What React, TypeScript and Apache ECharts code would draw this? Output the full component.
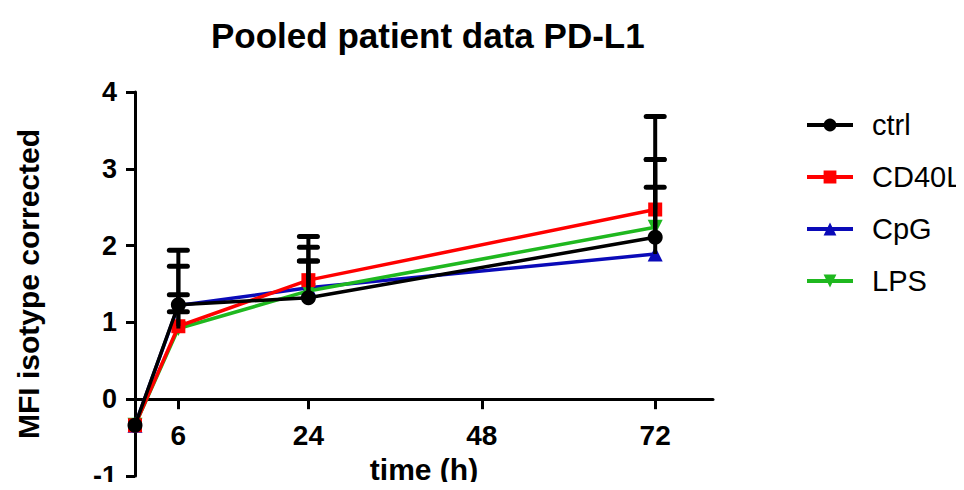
import React, { useEffect, useRef } from "react";
import * as echarts from "echarts";

// Time points (h) and group means
const timePoints = [0, 6, 24, 72];
const ctrlMean = [-0.34, 1.23, 1.32, 2.11];
const cd40lMean = [-0.34, 0.95, 1.55, 2.47];
const cpgMean = [-0.34, 1.22, 1.45, 1.89];
const lpsMean = [-0.34, 0.92, 1.41, 2.24];

// Upper end of each error bar
const ctrlUpper = [-0.34, 1.94, 1.98, 3.12];
const cd40lUpper = [-0.34, 1.73, 2.12, 3.68];
const cpgUpper = [-0.34, 1.36, 1.8, 2.76];
const lpsUpper = [-0.34, 1.14, 1.8, 3.12];

const xTicks = [6, 24, 48, 72];
const groupNames = ["ctrl", "CD40L", "CpG", "LPS"];

const FONT = "'Liberation Sans', Arial, Helvetica, sans-serif";

const pairs = (ys: number[]) => timePoints.map((t, i) => [t, ys[i]]);
const bars = (means: number[], uppers: number[]) =>
  timePoints.map((t, i) => [t, means[i], uppers[i]]);

export default function App() {
  const ref = useRef<HTMLDivElement>(null);

  useEffect(() => {
    if (!ref.current) return;
    const chart = echarts.init(ref.current, undefined, { renderer: "svg" });

    const lineSeries = (
      name: string,
      ys: number[],
      color: string,
      symbol: string,
      z: number,
      rotate = 0,
      size = 15
    ) => ({
      name,
      type: "line",
      data: pairs(ys),
      symbol,
      symbolSize: size,
      symbolRotate: rotate,
      showSymbol: true,
      z,
      itemStyle: { color, borderWidth: 0 },
      lineStyle: { color, width: 3.5 },
    });

    const errorData = [
      ...bars(ctrlMean, ctrlUpper),
      ...bars(cd40lMean, cd40lUpper),
      ...bars(cpgMean, cpgUpper),
      ...bars(lpsMean, lpsUpper),
    ];

    chart.setOption({
      animation: false,
      title: {
        text: "Pooled patient data PD-L1",
        left: 206,
        top: 13,
        textStyle: { fontFamily: FONT, fontSize: 35, fontWeight: "bold", color: "#000" },
      },
      legend: {
        orient: "vertical",
        left: 800,
        top: 105,
        itemWidth: 46,
        itemHeight: 16,
        itemGap: 22,
        data: groupNames,
        selectedMode: false,
        lineStyle: { width: 4 },
        textStyle: {
          fontFamily: FONT,
          fontSize: 29,
          color: "#000",
          lineHeight: 30,
          padding: [0, 0, 0, 14],
        },
      },
      grid: {
        left: 135,
        right: 251,
        top: 92,
        bottom: 14,
        containLabel: false,
        outerBoundsMode: "none",
      },
      xAxis: {
        type: "value",
        min: 0,
        max: 80,
        name: "time (h)",
        nameLocation: "middle",
        nameGap: 52,
        nameTextStyle: { fontFamily: FONT, fontSize: 30, fontWeight: "bold", color: "#000" },
        axisLine: { onZero: false, lineStyle: { color: "#000", width: 3 } },
        axisTick: {
          show: true,
          customValues: xTicks,
          length: 10,
          lineStyle: { color: "#000", width: 3 },
        },
        axisLabel: {
          customValues: xTicks,
          margin: 22,
          fontFamily: FONT,
          fontSize: 28,
          fontWeight: "bold",
          color: "#000",
        },
        splitLine: { show: false },
      },
      yAxis: {
        type: "value",
        min: -1,
        max: 4,
        interval: 1,
        name: "MFI isotype corrected",
        nameLocation: "middle",
        nameGap: 92,
        nameTextStyle: { fontFamily: FONT, fontSize: 30, fontWeight: "bold", color: "#000" },
        axisLine: { show: true, onZero: false, lineStyle: { color: "#000", width: 3 } },
        axisTick: { show: true, length: 9, lineStyle: { color: "#000", width: 3 } },
        axisLabel: {
          margin: 18,
          fontFamily: FONT,
          fontSize: 27,
          fontWeight: "bold",
          color: "#000",
        },
        splitLine: { show: false },
      },
      series: [
        lineSeries("ctrl", ctrlMean, "#000000", "circle", 6, 0, 15),
        lineSeries("CD40L", cd40lMean, "#ff0000", "rect", 5, 0, 14),
        lineSeries("CpG", cpgMean, "#0a0ab8", "triangle", 3),
        lineSeries("LPS", lpsMean, "#1fb81f", "triangle", 4, 180),
        {
          name: "error",
          type: "custom",
          z: 8,
          data: errorData,
          encode: { x: 0, y: [1, 2] },
          renderItem: (_params: any, api: any) => {
            const x = api.value(0);
            const lo = api.value(1);
            const hi = api.value(2);
            if (hi <= lo) return { type: "group", children: [] };
            const p0 = api.coord([x, lo]);
            const p1 = api.coord([x, hi]);
            const hw = 9;
            return {
              type: "group",
              children: [
                {
                  type: "line",
                  shape: { x1: p0[0], y1: p0[1], x2: p1[0], y2: p1[1] },
                  style: { stroke: "#000", lineWidth: 4 },
                },
                {
                  type: "line",
                  shape: { x1: p1[0] - hw, y1: p1[1], x2: p1[0] + hw, y2: p1[1] },
                  style: { stroke: "#000", lineWidth: 5, lineCap: "round" },
                },
              ],
            };
          },
        },
      ],
    });

    // Lift the time axis (line, ticks, labels and name) up to the y = 0 level
    const yZero = chart.convertToPixel({ yAxisIndex: 0 }, 0) as number;
    const yMin = chart.convertToPixel({ yAxisIndex: 0 }, -1) as number;
    chart.setOption({ xAxis: { offset: yZero - yMin } });

    return () => chart.dispose();
  }, []);

  return <div ref={ref} style={{ width: 964, height: 490, margin: -8 }} />;
}
